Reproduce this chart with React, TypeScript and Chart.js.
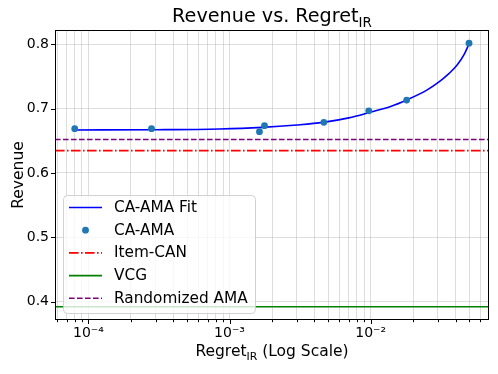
import React, { useEffect, useRef } from 'react';
import { Chart, registerables } from 'chart.js';

Chart.register(...registerables);

// ---- data ----
const fitRegret = [8e-5, 3e-4, 8.5e-4, 1.7e-3, 3e-3, 4.6e-3, 7e-3, 1e-2, 1.4e-2, 1.8e-2, 2.5e-2, 3.1e-2, 3.6e-2, 4.1e-2, 4.6e-2, 5e-2];
const fitRevenue = [0.6667, 0.6671, 0.6683, 0.6708, 0.6745, 0.6785, 0.6855, 0.6945, 0.7035, 0.7132, 0.7285, 0.7425, 0.7545, 0.7675, 0.784, 0.8015];
const pointRegret = [8.0e-5, 2.8e-4, 1.63e-3, 1.77e-3, 4.66e-3, 9.7e-3, 1.8e-2, 4.98e-2];
const pointRevenue = [0.6687, 0.6687, 0.664, 0.6733, 0.6786, 0.6965, 0.7132, 0.8015];
const itemCanRevenue = 0.6346;
const vcgRevenue = 0.392;
const randomizedAmaRevenue = 0.652;
const yTickValues = [0.4, 0.5, 0.6, 0.7, 0.8];

const titleMain = 'Revenue vs. Regret';
const titleSub = 'IR';
const xLabelMain = 'Regret';
const xLabelSub = 'IR';
const xLabelTail = ' (Log Scale)';
const yLabel = 'Revenue';

const FONT = '"DejaVu Sans", sans-serif';

const supDigits: Record<string, string> = { '-': '⁻', '0': '⁰', '1': '¹', '2': '²', '3': '³', '4': '⁴', '5': '⁵', '6': '⁶', '7': '⁷', '8': '⁸', '9': '⁹' };

// axis limits with matplotlib-like 5% margins
const allX = [...fitRegret, ...pointRegret];
const lMin = Math.log10(Math.min(...allX));
const lMax = Math.log10(Math.max(...allX));
const lPad = (lMax - lMin) * 0.05;
const X_MIN = Math.pow(10, lMin - lPad);
const X_MAX = Math.pow(10, lMax + lPad);
const allY = [...fitRevenue, ...pointRevenue, itemCanRevenue, vcgRevenue, randomizedAmaRevenue];
const yLo = Math.min(...allY);
const yHi = Math.max(...allY);
const yPad = (yHi - yLo) * 0.05;
const Y_MIN = yLo - yPad;
const Y_MAX = yHi + yPad;

const isDecade = (v: number) => Math.abs(Math.log10(v) - Math.round(Math.log10(v))) < 1e-9;

function drawSubText(ctx: CanvasRenderingContext2D, main: string, sub: string, tail: string, cx: number, baseline: number, size: number) {
  const mainFont = `${size}px ${FONT}`;
  const subFont = `${size * 0.7}px ${FONT}`;
  ctx.font = mainFont;
  const w1 = ctx.measureText(main).width;
  const w3 = ctx.measureText(tail).width;
  ctx.font = subFont;
  const w2 = ctx.measureText(sub).width;
  let x = cx - (w1 + w2 + w3) / 2;
  ctx.textAlign = 'left';
  ctx.textBaseline = 'alphabetic';
  ctx.fillStyle = '#000';
  ctx.font = mainFont;
  ctx.fillText(main, x, baseline);
  x += w1;
  ctx.font = subFont;
  ctx.fillText(sub, x, baseline + size * 0.24);
  x += w2;
  ctx.font = mainFont;
  ctx.fillText(tail, x, baseline);
}

const decorPlugin = {
  id: 'decor',
  afterDatasetsDraw(chart: any) {
    const ctx: CanvasRenderingContext2D = chart.ctx;
    const ca = chart.chartArea;
    const xs = chart.scales.x;
    const ys = chart.scales.y;
    ctx.save();

    // legend
    const lx = 63.5, ly = 195.5, lw = 192, lh = 118;
    ctx.beginPath();
    (ctx as any).roundRect(lx, ly, lw, lh, 4);
    ctx.fillStyle = 'rgba(255,255,255,0.8)';
    ctx.fill();
    ctx.strokeStyle = 'rgba(204,204,204,0.9)';
    ctx.lineWidth = 1;
    ctx.stroke();
    const items = chart.data.datasets.map((d: any) => d).sort((a: any, b: any) => a.legendIndex - b.legendIndex);
    items.forEach((d: any, i: number) => {
      const cy = 207.5 + i * 22.7;
      ctx.save();
      if (d.showLine === false) {
        ctx.beginPath();
        ctx.arc(85.5, cy, d.pointRadius, 0, Math.PI * 2);
        ctx.fillStyle = d.pointBackgroundColor;
        ctx.fill();
      } else {
        ctx.beginPath();
        ctx.setLineDash(d.borderDash || []);
        ctx.strokeStyle = d.borderColor;
        ctx.lineWidth = d.borderWidth;
        ctx.moveTo(69, cy);
        ctx.lineTo(102, cy);
        ctx.stroke();
      }
      ctx.restore();
      ctx.fillStyle = '#000';
      ctx.font = `15.3px ${FONT}`;
      ctx.textAlign = 'left';
      ctx.textBaseline = 'middle';
      ctx.fillText(d.label, 114, cy + 0.5);
    });

    // frame
    ctx.strokeStyle = '#000';
    ctx.lineWidth = 1;
    ctx.strokeRect(Math.round(ca.left) + 0.5, Math.round(ca.top) + 0.5, Math.round(ca.right - ca.left) - 1, Math.round(ca.bottom - ca.top) - 1);

    // tick marks
    ctx.beginPath();
    xs.ticks.forEach((t: any) => {
      const px = Math.round(xs.getPixelForValue(t.value)) + 0.5;
      const len = isDecade(t.value) ? 4 : 2.2;
      ctx.moveTo(px, ca.bottom);
      ctx.lineTo(px, ca.bottom + len);
    });
    ys.ticks.forEach((t: any) => {
      const py = Math.round(ys.getPixelForValue(t.value)) + 0.5;
      ctx.moveTo(ca.left, py);
      ctx.lineTo(ca.left - 4, py);
    });
    ctx.stroke();

    // title and axis labels
    drawSubText(ctx, titleMain, titleSub, '', (ca.left + ca.right) / 2, 22, 19.2);
    drawSubText(ctx, xLabelMain, xLabelSub, xLabelTail, (ca.left + ca.right) / 2, 356, 15.5);
    ctx.save();
    ctx.translate(23, (ca.top + ca.bottom) / 2);
    ctx.rotate(-Math.PI / 2);
    ctx.font = `15.5px ${FONT}`;
    ctx.textAlign = 'center';
    ctx.textBaseline = 'alphabetic';
    ctx.fillStyle = '#000';
    ctx.fillText(yLabel, 0, 0);
    ctx.restore();

    ctx.restore();
  },
};

export default function App() {
  const ref = useRef<HTMLCanvasElement>(null);
  useEffect(() => {
    if (!ref.current) return;
    const hline = (v: number) => [{ x: X_MIN, y: v }, { x: X_MAX, y: v }];
    const chart = new Chart(ref.current, {
      type: 'line',
      data: {
        datasets: [
          {
            label: 'CA-AMA',
            legendIndex: 1,
            data: pointRegret.map((x, i) => ({ x, y: pointRevenue[i] })),
            showLine: false,
            pointRadius: 3.4,
            pointBackgroundColor: '#1f77b4',
            pointBorderWidth: 0,
            borderColor: '#1f77b4',
          } as any,
          {
            label: 'CA-AMA Fit',
            legendIndex: 0,
            data: fitRegret.map((x, i) => ({ x, y: fitRevenue[i] })),
            borderColor: '#0000ff',
            borderWidth: 1.6,
            pointRadius: 0,
            cubicInterpolationMode: 'monotone',
            fill: false,
          } as any,
          {
            label: 'Item-CAN',
            legendIndex: 2,
            data: hline(itemCanRevenue),
            borderColor: '#ff0000',
            borderWidth: 1.6,
            borderDash: [9.6, 2.4, 1.6, 2.4],
            pointRadius: 0,
          } as any,
          {
            label: 'VCG',
            legendIndex: 3,
            data: hline(vcgRevenue),
            borderColor: '#008000',
            borderWidth: 1.6,
            pointRadius: 0,
          } as any,
          {
            label: 'Randomized AMA',
            legendIndex: 4,
            data: hline(randomizedAmaRevenue),
            borderColor: '#800080',
            borderWidth: 1.6,
            borderDash: [5.6, 2.4],
            pointRadius: 0,
          } as any,
        ],
      },
      options: {
        responsive: false,
        animation: false,
        layout: { padding: { top: 30, right: 9, left: 0, bottom: 0 } },
        plugins: { legend: { display: false }, tooltip: { enabled: false }, title: { display: false } },
        scales: {
          x: {
            type: 'logarithmic',
            min: X_MIN,
            max: X_MAX,
            afterBuildTicks: (scale: any) => {
              const ticks: any[] = [];
              for (let e = Math.floor(Math.log10(X_MIN)); e <= Math.ceil(Math.log10(X_MAX)); e++) {
                for (let m = 1; m <= 9; m++) {
                  const v = m * Math.pow(10, e);
                  if (v >= X_MIN && v <= X_MAX) ticks.push({ value: v, major: m === 1 });
                }
              }
              scale.ticks = ticks;
            },
            afterFit: (scale: any) => { scale.height = 54; },
            grid: { color: 'rgba(176,176,176,0.55)', lineWidth: 0.8, drawTicks: false },
            border: { display: false },
            ticks: {
              autoSkip: false,
              maxRotation: 0,
              padding: 5,
              color: '#000',
              font: { family: 'DejaVu Sans', size: 14 },
              callback: (v: any) => {
                const n = Number(v);
                if (!isDecade(n)) return '';
                const e = String(Math.round(Math.log10(n)));
                return '10' + e.split('').map((c) => supDigits[c]).join('');
              },
            },
          },
          y: {
            type: 'linear',
            min: Y_MIN,
            max: Y_MAX,
            afterBuildTicks: (scale: any) => { scale.ticks = yTickValues.map((v) => ({ value: v })); },
            afterFit: (scale: any) => { scale.width = 55; },
            grid: { color: 'rgba(176,176,176,0.55)', lineWidth: 0.8, drawTicks: false },
            border: { display: false },
            ticks: {
              padding: 6,
              color: '#000',
              font: { family: 'DejaVu Sans', size: 14 },
              callback: (v: any) => Number(v).toFixed(1),
            },
          },
        },
      } as any,
      plugins: [decorPlugin],
    });
    return () => chart.destroy();
  }, []);
  return (
    <div style={{ position: 'fixed', left: 0, top: 0, width: 498, height: 374, background: '#fff' }}>
      <canvas ref={ref} width={498} height={374} style={{ width: 498, height: 374, display: 'block' }} />
    </div>
  );
}
